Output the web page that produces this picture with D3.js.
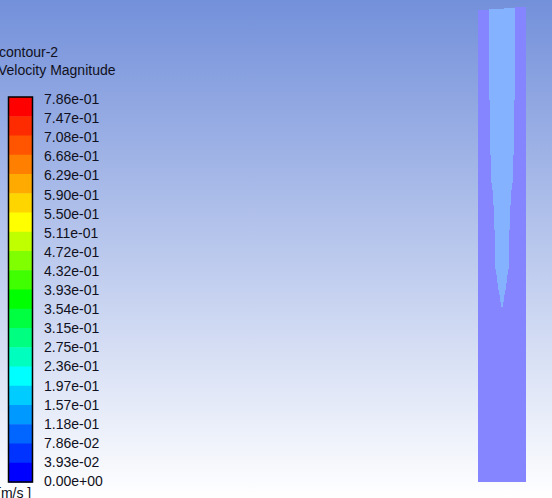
<!DOCTYPE html>
<html lang="en">
<head>
    <meta charset="UTF-8">
    <title>contour-2 Velocity Magnitude</title>
    <style>
        html, body { margin: 0; padding: 0; overflow: hidden; }
        svg { display: block; }
        .legend text {
          font-family: "Liberation Sans", Arial, sans-serif;
          font-size: 14px;
          fill: #101020;
        }
    </style>
</head>
<body>
    <svg width="552" height="498"></svg>
    <script src="https://d3js.org/d3.v7.min.js"></script>
    <script>
        // legend labels, top to bottom
        const tickLabels = ["7.86e-01", "7.47e-01", "7.08e-01", "6.68e-01", "6.29e-01", "5.90e-01",
            "5.50e-01", "5.11e-01", "4.72e-01", "4.32e-01", "3.93e-01", "3.54e-01", "3.15e-01",
            "2.75e-01", "2.36e-01", "1.97e-01", "1.57e-01", "1.18e-01", "7.86e-02", "3.93e-02", "0.00e+00"];

        // band colours, top (max) to bottom (min)
        const bandColors = ["#ff0000", "#ff2b00", "#ff5500", "#ff8000", "#ffaa00", "#ffd500",
            "#ffff00", "#bfff00", "#80ff00", "#40ff00", "#00ff00", "#00ff40", "#00ff80",
            "#00ffbf", "#00ffff", "#00ccff", "#0099ff", "#0066ff", "#0033ff", "#0000ff"];

        // pipe wall top (cells end at slightly different heights): radial strip edges and top z
        const topEdgeR = [-1, -0.54, 0.08, 0.54, 1];
        const topEdgeZ = [0.9958, 0.9979, 1.0, 1.0021];

        // faster core: half width (r / pipe radius) held from z down to the next z
        const coreZ = [0.998, 0.806, 0.690, 0.631, 0.616, 0.584, 0.532, 0.449, 0.437, 0.420, 0.405, 0.395, 0.380, 0.369];
        const coreR = [0.542, 0.500, 0.458, 0.417, 0.375, 0.333, 0.292, 0.250, 0.208, 0.167, 0.125, 0.083, 0.042, 0];

        const svg = d3.select("svg"),
              width = +svg.attr("width"),
              height = +svg.attr("height");

        // background gradient
        const grad = svg.append("defs").append("linearGradient")
            .attr("id", "bg")
            .attr("x1", 0).attr("y1", 0).attr("x2", 0).attr("y2", 1);
        grad.append("stop").attr("offset", "0%").attr("stop-color", "#7390da");
        grad.append("stop").attr("offset", "100%").attr("stop-color", "#ffffff");

        svg.append("rect")
            .attr("width", width)
            .attr("height", height)
            .attr("fill", "url(#bg)");

        // geometry scales
        const x = d3.scaleLinear().domain([-1, 1]).range([478, 526]);
        const y = d3.scaleLinear().domain([0, 1]).range([482, 8]);

        const line = d3.line()
            .x(function(d) { return x(d[0]); })
            .y(function(d) { return y(d[1]); });

        // outer pipe with stepped top
        const outer = [[topEdgeR[0], 0]];
        topEdgeZ.forEach(function(z, i) {
            outer.push([topEdgeR[i], z]);
            outer.push([topEdgeR[i + 1], z]);
        });
        outer.push([topEdgeR[topEdgeR.length - 1], 0]);

        svg.append("path")
            .attr("d", line(outer) + "Z")
            .attr("fill", "#8585ff");

        // core: stepped outline, right side going down then left side going up
        const right = [], left = [];
        for (let i = 0; i < coreZ.length - 1; i++) {
            right.push([coreR[i], coreZ[i]]);
            right.push([coreR[i], coreZ[i + 1]]);
        }
        right.push([0, coreZ[coreZ.length - 1]]);
        for (let i = coreZ.length - 2; i >= 0; i--) {
            left.push([-coreR[i], coreZ[i + 1]]);
            left.push([-coreR[i], coreZ[i]]);
        }
        // top of core follows the wall-top steps
        const coreTop = [[-coreR[0], topEdgeZ[1]], [topEdgeR[2], topEdgeZ[1]],
                         [topEdgeR[2], topEdgeZ[2]], [coreR[0], topEdgeZ[2]]];

        svg.append("path")
            .attr("d", line(coreTop.concat(right.slice(1)).concat(left.slice(0, -1))) + "Z")
            .attr("fill", "#85b2ff");

        // legend
        const legend = svg.append("g").attr("class", "legend");

        const bandY = d3.scaleLinear().domain([0, bandColors.length]).range([97, 482]);

        legend.selectAll("rect.band")
            .data(bandColors)
            .enter().append("rect")
            .attr("class", "band")
            .attr("x", 8.5)
            .attr("width", 24)
            .attr("y", function(d, i) { return bandY(i); })
            .attr("height", function(d, i) { return bandY(i + 1) - bandY(i) + 0.5; })
            .attr("fill", function(d) { return d; });

        legend.append("rect")
            .attr("x", 8.5)
            .attr("y", bandY(0))
            .attr("width", 24)
            .attr("height", bandY(bandColors.length) - bandY(0))
            .attr("fill", "none")
            .attr("stroke", "#000")
            .attr("stroke-width", 1.5);

        const labelY = d3.scalePoint().domain(tickLabels).range([104, 486]);

        legend.selectAll("text.tick")
            .data(tickLabels)
            .enter().append("text")
            .attr("class", "tick")
            .attr("x", 44)
            .attr("y", function(d) { return labelY(d); })
            .text(function(d) { return d; });

        // titles sit against the left edge, as in the viewer window
        legend.append("text").attr("x", -1).attr("y", 57).text("contour-2");
        legend.append("text").attr("x", -2).attr("y", 75).text("Velocity Magnitude");
        legend.append("text").attr("x", -3).attr("y", 498).text("[m/s ]");
    </script>
</body>
</html>
